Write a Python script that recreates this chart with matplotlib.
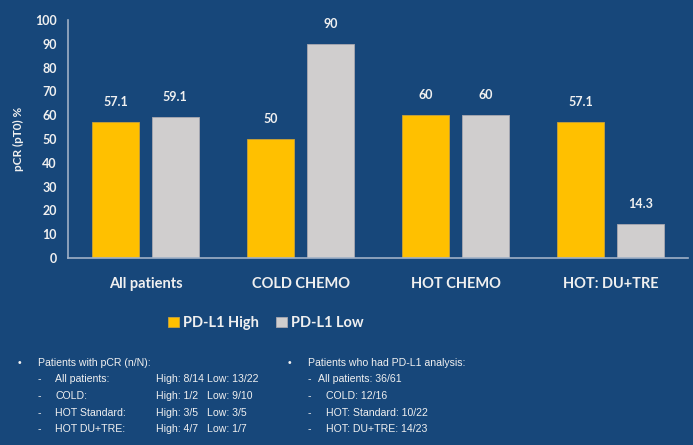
import matplotlib.pyplot as plt
import numpy as np

# data
groups = ['All patients', 'COLD CHEMO', 'HOT CHEMO', 'HOT: DU+TRE']
pdl1_high = [57.1, 50, 60, 57.1]
pdl1_low = [59.1, 90, 60, 14.3]
high_labels = ['57.1', '50', '60', '57.1']
low_labels = ['59.1', '90', '60', '14.3']
yticks = [0, 10, 20, 30, 40, 50, 60, 70, 80, 90, 100]

left_head = 'Patients with pCR (n/N):'
left_rows = ['All patients:', 'COLD:', 'HOT Standard:', 'HOT DU+TRE:']
left_high = ['High: 8/14', 'High: 1/2', 'High: 3/5', 'High: 4/7']
left_low = ['Low: 13/22', 'Low: 9/10', 'Low: 3/5', 'Low: 1/7']
right_head = 'Patients who had PD-L1 analysis:'
right_rows = ['All patients: 36/61', 'COLD: 12/16', 'HOT: Standard: 10/22', 'HOT: DU+TRE: 14/23']

BG = '#17477a'
YELLOW = '#ffc000'
GREY = '#d0cece'
TXT = '#f0f0f0'

W, H = 693, 445
fig = plt.figure(figsize=(W / 100, H / 100), dpi=100, facecolor=BG)
ax = fig.add_axes([68 / W, 1 - 258 / H, 620 / W, 238 / H])
ax.set_facecolor(BG)

x = np.arange(len(groups))
bw = 0.30
off = 0.192
b1 = ax.bar(x - off, pdl1_high, bw, color=YELLOW, edgecolor='#c9a23a', linewidth=0.6, label='PD-L1 High')
b2 = ax.bar(x + off, pdl1_low, bw, color=GREY, edgecolor='#a9a9b0', linewidth=0.6, label='PD-L1 Low')

for bars, labs in ((b1, high_labels), (b2, low_labels)):
    for b, lab in zip(bars, labs):
        ax.annotate(lab, (b.get_x() + b.get_width() / 2, b.get_height()),
                    xytext=(0, 10), textcoords='offset points', ha='center', va='bottom',
                    color=TXT, fontsize=9, fontweight='bold', family='Lato')

ax.set_xlim(-0.5, len(groups) - 0.5)
ax.set_ylim(0, 100)
ax.set_yticks(yticks)
ax.set_xticks(x)
ax.set_xticklabels(groups, fontsize=10.5, fontweight='bold', family='Lato', color=TXT)
ax.tick_params(axis='x', length=0, pad=14)
ax.tick_params(axis='y', length=0, pad=8, colors=TXT)
for t in ax.get_yticklabels():
    t.set_fontweight('bold')
    t.set_family('Lato')
    t.set_fontsize(9)
ax.set_ylabel('pCR (pT0) %', color=TXT, fontsize=8.5, fontweight='bold', family='Lato', labelpad=8)

for s in ('top', 'right'):
    ax.spines[s].set_visible(False)
for s in ('left', 'bottom'):
    ax.spines[s].set_color('#9fb0c6')
    ax.spines[s].set_linewidth(1.2)

leg = fig.legend(handles=[b1, b2], loc='center', bbox_to_anchor=(266 / W, 1 - 323 / H),
                 ncol=2, frameon=False, handlelength=0.7, handleheight=0.7,
                 handletextpad=0.3, columnspacing=1.2,
                 prop={'family': 'Lato', 'weight': 'bold', 'size': 10.5})
for t in leg.get_texts():
    t.set_color(TXT)

# notes below the chart (narrow Arial look -> small Liberation Sans)
kw = dict(color=TXT, fontsize=7.6, family='Liberation Sans', va='center', ha='left')
ys = [363, 379, 396, 413, 429]


def put(px, py, s):
    fig.text(px / W, 1 - py / H, s, **kw)


put(18, ys[0], '•')
put(38, ys[0], left_head)
for i in range(4):
    put(38, ys[i + 1], '-')
    put(55, ys[i + 1], left_rows[i])
    put(156, ys[i + 1], left_high[i])
    put(207, ys[i + 1], left_low[i])

put(288, ys[0], '•')
put(308, ys[0], right_head)
put(308, ys[1], '-')
put(318, ys[1], right_rows[0])
for i in range(1, 4):
    put(308, ys[i + 1], '-')
    put(326, ys[i + 1], right_rows[i])

fig.savefig('out.png', dpi=100, facecolor=BG)
